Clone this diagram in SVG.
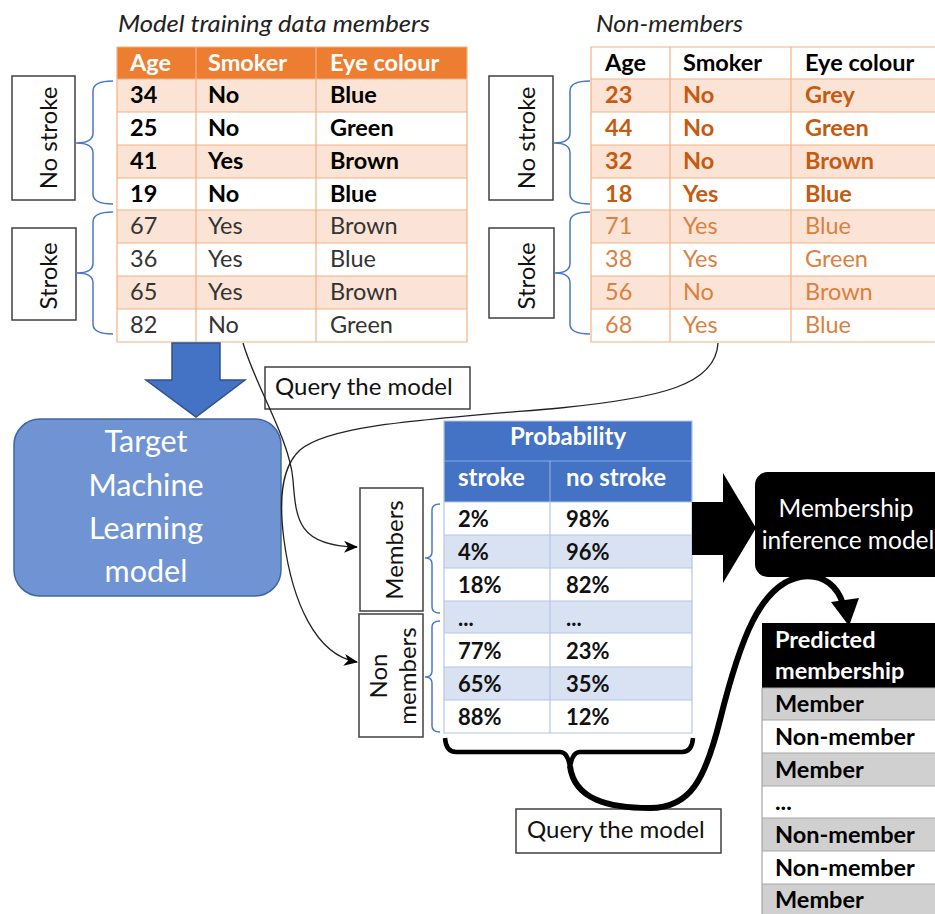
<svg xmlns="http://www.w3.org/2000/svg" width="935" height="914" viewBox="0 0 935 914">
<style>
text{font-family:Lato,"Liberation Sans",sans-serif;}
.b{font-weight:bold;}
.hdr{fill:#fff;font-weight:bold;font-size:23.5px;}
.mk{fill:#000;font-size:23.5px;}
.mr{fill:#333;font-size:23.5px;}
.nk{fill:#C55A11;font-size:23.5px;font-weight:bold;}
.nr{fill:#DC7F40;font-size:23.5px;}
.title{font-style:italic;font-size:24px;fill:#222;}
.lbl{fill:#fff;stroke:#404040;stroke-width:1.5;}
.lt{font-size:24px;fill:#111;}
.brace{fill:none;stroke:#4A78C8;stroke-width:1.5;}
.orow{fill:#FBE4D5;}
.ogrid{stroke:#F4B183;stroke-width:1.2;fill:none;}
.bgrid{stroke:#B4C6E7;stroke-width:1.2;fill:none;}
.brow{fill:#D9E2F3;}
.pk{fill:#111;font-size:22px;font-weight:bold;}
.ph{fill:#fff;font-weight:bold;font-size:24px;}
.conn{fill:none;stroke:#222;stroke-width:1.3;}
.gk{fill:#000;font-size:23.5px;font-weight:bold;}
</style>
<defs>
<marker id="ah" markerWidth="14" markerHeight="12" refX="13" refY="6" orient="auto" markerUnits="userSpaceOnUse">
<path d="M0,0 L14,6 L0,12 L4,6 Z" fill="#000"/>
</marker>
</defs>

<!-- Members table -->
<g id="members-table">
<text class="title" x="118" y="32" textLength="312" lengthAdjust="spacingAndGlyphs">Model training data members</text>
<rect x="117" y="47" width="350" height="32" fill="#ED7D31"/>
<rect class="orow" x="117" y="79" width="350" height="33"/>
<rect class="orow" x="117" y="145" width="350" height="33"/>
<rect class="orow" x="117" y="210" width="350" height="33"/>
<rect class="orow" x="117" y="276" width="350" height="33"/>
<path class="ogrid" d="M117,47 H467 V342 H117 Z M117,79 H467 M117,112 H467 M117,145 H467 M117,178 H467 M117,210 H467 M117,243 H467 M117,276 H467 M117,309 H467 M196,47 V342 M316,47 V342"/>
<text class="hdr" x="130" y="71">Age</text><text class="hdr" x="208" y="71">Smoker</text><text class="hdr" x="330" y="71">Eye colour</text>
<g class="b">
<text class="mk" x="130" y="103">34</text><text class="mk" x="208" y="103">No</text><text class="mk" x="330" y="103">Blue</text>
<text class="mk" x="130" y="136">25</text><text class="mk" x="208" y="136">No</text><text class="mk" x="330" y="136">Green</text>
<text class="mk" x="130" y="169">41</text><text class="mk" x="208" y="169">Yes</text><text class="mk" x="330" y="169">Brown</text>
<text class="mk" x="130" y="202">19</text><text class="mk" x="208" y="202">No</text><text class="mk" x="330" y="202">Blue</text>
</g>
<text class="mr" x="130" y="234">67</text><text class="mr" x="208" y="234">Yes</text><text class="mr" x="330" y="234">Brown</text>
<text class="mr" x="130" y="267">36</text><text class="mr" x="208" y="267">Yes</text><text class="mr" x="330" y="267">Blue</text>
<text class="mr" x="130" y="300">65</text><text class="mr" x="208" y="300">Yes</text><text class="mr" x="330" y="300">Brown</text>
<text class="mr" x="130" y="333">82</text><text class="mr" x="208" y="333">No</text><text class="mr" x="330" y="333">Green</text>
</g>

<g id="members-nostroke-label">
<rect class="lbl" x="12" y="76" width="63" height="124"/>
<text class="lt" transform="translate(57,138) rotate(-90)" text-anchor="middle">No stroke</text>
<path class="brace" d="M113,81 Q93,81 93,91 L93,133 Q93,143 76,143 Q93,143 93,153 L93,194 Q93,204 113,204"/>
</g>
<g id="members-stroke-label">
<rect class="lbl" x="12" y="228" width="64" height="92"/>
<text class="lt" transform="translate(57,276) rotate(-90)" text-anchor="middle">Stroke</text>
<path class="brace" d="M113,212 Q93,212 93,222 L93,263 Q93,273 77,273 Q93,273 93,283 L93,324 Q93,334 113,334"/>
</g>

<!-- Non-members table -->
<g id="nonmembers-table">
<text class="title" x="596" y="32" textLength="147" lengthAdjust="spacingAndGlyphs">Non-members</text>
<rect x="591" y="47" width="350" height="32" fill="#fff"/>
<rect class="orow" x="591" y="79" width="350" height="33"/>
<rect class="orow" x="591" y="145" width="350" height="33"/>
<rect class="orow" x="591" y="210" width="350" height="33"/>
<rect class="orow" x="591" y="276" width="350" height="33"/>
<path class="ogrid" d="M941,47 H591 V342 H941 M591,79 H941 M591,112 H941 M591,145 H941 M591,178 H941 M591,210 H941 M591,243 H941 M591,276 H941 M591,309 H941 M670,47 V342 M791,47 V342"/>
<g class="b">
<text class="mk" x="605" y="71">Age</text><text class="mk" x="683" y="71">Smoker</text><text class="mk" x="805" y="71">Eye colour</text>
</g>
<text class="nk" x="605" y="103">23</text><text class="nk" x="683" y="103">No</text><text class="nk" x="805" y="103">Grey</text>
<text class="nk" x="605" y="136">44</text><text class="nk" x="683" y="136">No</text><text class="nk" x="805" y="136">Green</text>
<text class="nk" x="605" y="169">32</text><text class="nk" x="683" y="169">No</text><text class="nk" x="805" y="169">Brown</text>
<text class="nk" x="605" y="202">18</text><text class="nk" x="683" y="202">Yes</text><text class="nk" x="805" y="202">Blue</text>
<text class="nr" x="605" y="234">71</text><text class="nr" x="683" y="234">Yes</text><text class="nr" x="805" y="234">Blue</text>
<text class="nr" x="605" y="267">38</text><text class="nr" x="683" y="267">Yes</text><text class="nr" x="805" y="267">Green</text>
<text class="nr" x="605" y="300">56</text><text class="nr" x="683" y="300">No</text><text class="nr" x="805" y="300">Brown</text>
<text class="nr" x="605" y="333">68</text><text class="nr" x="683" y="333">Yes</text><text class="nr" x="805" y="333">Blue</text>
</g>

<g id="nonmembers-nostroke-label">
<rect class="lbl" x="489" y="76" width="64" height="124"/>
<text class="lt" transform="translate(535,138) rotate(-90)" text-anchor="middle">No stroke</text>
<path class="brace" d="M590,81 Q570,81 570,91 L570,133 Q570,143 554,143 Q570,143 570,153 L570,194 Q570,204 590,204"/>
</g>
<g id="nonmembers-stroke-label">
<rect class="lbl" x="489" y="228" width="65" height="90"/>
<text class="lt" transform="translate(535,276) rotate(-90)" text-anchor="middle">Stroke</text>
<path class="brace" d="M590,212 Q570,212 570,222 L570,263 Q570,273 555,273 Q570,273 570,283 L570,324 Q570,334 590,334"/>
</g>

<!-- Big blue arrow -->
<g id="train-arrow">
<polygon points="172,343 220,343 220,380 245,380 196,417 146,380 172,380" fill="#4472C4" stroke="#2F528F" stroke-width="1.5"/>
</g>

<!-- Target model -->
<g id="target-model">
<rect x="14" y="419" width="267" height="177" rx="26" fill="#7094D3" stroke="#41659F" stroke-width="1.5"/>
<g fill="#fff" font-size="30.5" text-anchor="middle">
<text x="146" y="452">Target</text>
<text x="146" y="496">Machine</text>
<text x="146" y="539">Learning</text>
<text x="146" y="582">model</text>
</g>
</g>

<!-- Query labels -->
<g id="query-label-1">
<rect class="lbl" x="265" y="367" width="205" height="42"/>
<text class="lt" x="275" y="395">Query the model</text>
</g>

<!-- Members / Non members labels -->
<g id="members-label">
<rect class="lbl" x="360" y="488" width="63" height="123"/>
<text class="lt" transform="translate(403,550) rotate(-90)" text-anchor="middle" font-size="25">Members</text>
<path class="brace" d="M440,504 Q432,504 432,510 L432,552 Q432,558 425,558 Q432,558 432,564 L432,607 Q432,613 440,613"/>
</g>
<g id="nonmembers-label">
<rect class="lbl" x="359" y="614" width="64" height="123"/>
<g transform="translate(391,676) rotate(-90)" text-anchor="middle">
<text class="lt" x="0" y="-4">Non</text>
<text class="lt" x="0" y="25">members</text>
</g>
<path class="brace" d="M440,621 Q432,621 432,627 L432,671 Q432,677 425,677 Q432,677 432,683 L432,726 Q432,732 440,732"/>
</g>

<!-- Probability table -->
<g id="probability-table">
<rect x="444" y="421" width="248" height="81" fill="#4472C4"/>
<rect x="444" y="502" width="248" height="231" fill="#fff"/>
<rect class="brow" x="444" y="535" width="248" height="33"/>
<rect class="brow" x="444" y="601" width="248" height="32"/>
<rect class="brow" x="444" y="667" width="248" height="33"/>
<path d="M444,461 H692 M550,461 V502" stroke="#8EAADB" stroke-width="1.2" fill="none"/>
<path class="bgrid" d="M444,421 H692 V733 H444 Z M444,502 H692 M444,535 H692 M444,568 H692 M444,601 H692 M444,633 H692 M444,667 H692 M444,700 H692 M550,502 V733"/>
<text class="ph" x="568" y="445" text-anchor="middle">Probability</text>
<text class="ph" x="458" y="486">stroke</text>
<text class="ph" x="566" y="486">no stroke</text>
<text class="pk" x="458" y="527">2%</text><text class="pk" x="566" y="527">98%</text>
<text class="pk" x="458" y="560">4%</text><text class="pk" x="566" y="560">96%</text>
<text class="pk" x="458" y="593">18%</text><text class="pk" x="566" y="593">82%</text>
<text class="pk" x="458" y="626" font-size="13">...</text><text class="pk" x="566" y="626" font-size="13">...</text>
<text class="pk" x="458" y="659">77%</text><text class="pk" x="566" y="659">23%</text>
<text class="pk" x="458" y="692">65%</text><text class="pk" x="566" y="692">35%</text>
<text class="pk" x="458" y="725">88%</text><text class="pk" x="566" y="725">12%</text>
</g>

<!-- Big black arrow -->
<g id="infer-arrow">
<polygon points="692,502 723,502 723,473 756,528 723,583 723,555 692,555" fill="#000"/>
</g>

<!-- Membership inference model -->
<g id="membership-model">
<rect x="755" y="472" width="200" height="105" rx="13" fill="#000"/>
<g fill="#fff" font-size="24.5" text-anchor="middle">
<text x="846" y="517">Membership</text>
<text x="848" y="549">inference model</text>
</g>
</g>

<!-- Query label 2 -->
<g id="query-label-2">
<rect class="lbl" x="516" y="809" width="205" height="44"/>
<text class="lt" x="527" y="838">Query the model</text>
</g>

<!-- Predicted membership -->
<g id="predicted-table">
<rect x="762" y="623" width="180" height="65" fill="#000"/>
<rect x="762" y="688" width="180" height="226" fill="#fff"/>
<rect x="762" y="688" width="180" height="32" fill="#D0D0D0"/>
<rect x="762" y="753" width="180" height="33" fill="#D0D0D0"/>
<rect x="762" y="818" width="180" height="33" fill="#D0D0D0"/>
<rect x="762" y="884" width="180" height="30" fill="#D0D0D0"/>
<path d="M762,688 V914 M762,688 H942 M762,720 H942 M762,753 H942 M762,786 H942 M762,818 H942 M762,851 H942 M762,884 H942" stroke="#A6A6A6" stroke-width="1.2" fill="none"/>
<text x="775" y="648" fill="#fff" font-size="23.5" font-weight="bold">Predicted</text>
<text x="775" y="679" fill="#fff" font-size="23.5" font-weight="bold">membership</text>
<text class="gk" x="775" y="712">Member</text>
<text class="gk" x="775" y="745">Non-member</text>
<text class="gk" x="775" y="778">Member</text>
<text class="gk" x="775" y="810" font-size="13">...</text>
<text class="gk" x="775" y="843">Non-member</text>
<text class="gk" x="775" y="876">Non-member</text>
<text class="gk" x="775" y="908">Member</text>
</g>

<!-- Connectors -->
<g id="connectors">
<path class="conn" d="M243,343 C255,385 290,440 293,480 C296,520 298,546 357,547" marker-end="url(#ah)"/>
<path class="conn" d="M718,343 C716,385 660,398 560,408 C420,420 330,425 300,450 C278,470 280,510 284,540 C292,600 315,655 357,662" marker-end="url(#ah)"/>
<path d="M445,738 Q446,752 456,752 L560,752 Q568,752 570,768 Q572,752 580,752 L682,752 Q692,752 693,738" fill="none" stroke="#000" stroke-width="4.5"/>
<path d="M570,766 C574,800 610,808 650,808 C690,808 705,780 720,720 C740,640 760,585 800,577 C825,573 838,588 843,604" fill="none" stroke="#000" stroke-width="6"/>
<polygon points="831,602 859,598 849,626" fill="#000"/>
</g>
</svg>
